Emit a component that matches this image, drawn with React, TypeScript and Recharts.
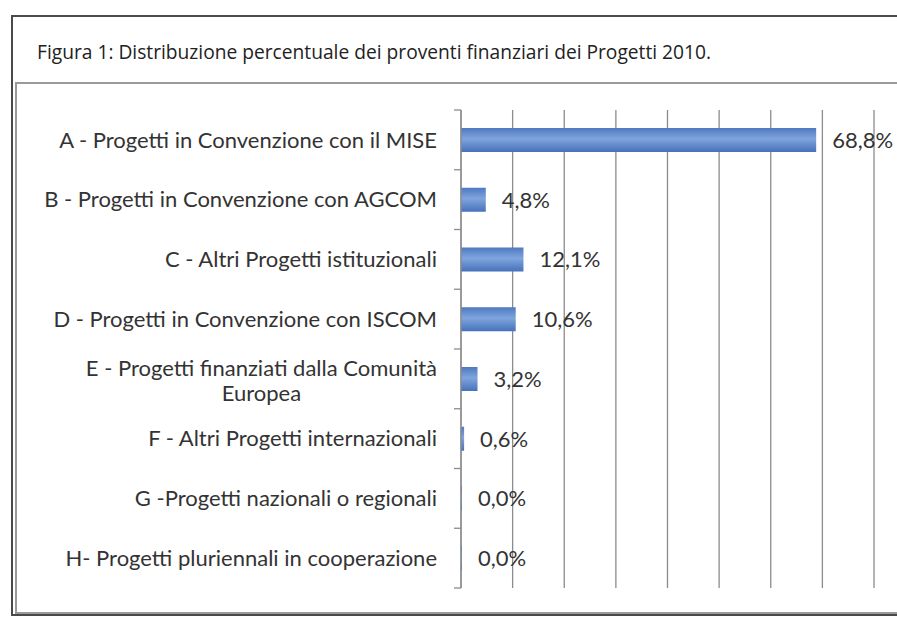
import React from 'react';
import { BarChart, Bar, XAxis, YAxis, CartesianGrid, LabelList } from 'recharts';

const categories = [
  'A - Progetti in Convenzione con il MISE',
  'B - Progetti in Convenzione con AGCOM',
  'C - Altri Progetti istituzionali',
  'D - Progetti in Convenzione con ISCOM',
  'E - Progetti finanziati dalla Comunità Europea',
  'F - Altri Progetti internazionali',
  'G -Progetti nazionali o regionali',
  'H- Progetti pluriennali in cooperazione',
];
const shares = [68.8, 4.8, 12.1, 10.6, 3.2, 0.6, 0.0, 0.0];
const xTicks = [0, 10, 20, 30, 40, 50, 60, 70, 80];

const data = categories.map((name, i) => ({ name, value: shares[i] }));

const FONT = 'Lato, "Open Sans", sans-serif';
const FONT_SIZE = 22;
const TEXT = '#333333';
const GRID = '#8c8c8c';

const CHART_W = 897;
const CHART_H = 617;
const MARGIN = { top: 110, right: 23, bottom: 29, left: 0 };
const LABEL_GAP = 24;
const EDGE_TICK = 7;

let ctx: CanvasRenderingContext2D | null = null;
const measure = (s: string) => {
  if (!ctx) ctx = document.createElement('canvas').getContext('2d');
  if (!ctx) return s.length * 10;
  ctx.font = `${FONT_SIZE}px ${FONT}`;
  return ctx.measureText(s).width;
};

// greedy wrap at ~40 characters
const wrap = (s: string) => {
  const lines: string[] = [];
  let cur = '';
  s.split(' ').forEach((w) => {
    const next = cur ? cur + ' ' + w : w;
    if (next.length > 40 && cur) {
      lines.push(cur);
      cur = w;
    } else cur = next;
  });
  if (cur) lines.push(cur);
  return lines;
};

// label plus the small tick marks that sit on the category boundaries
const CategoryTick = ({ x, y, payload, index }: any) => {
  const lines = wrap(payload.value);
  const style = { fontFamily: FONT, fontSize: FONT_SIZE, fill: TEXT };
  const half =
    payload.offset || (CHART_H - MARGIN.top - MARGIN.bottom) / categories.length / 2;
  const ax = x + LABEL_GAP;
  const edge = (yy: number) => (
    <line x1={ax - EDGE_TICK} x2={ax} y1={yy} y2={yy} stroke={GRID} strokeWidth={1.3} />
  );
  let label;
  if (lines.length === 1) {
    label = (
      <text x={x} y={y} dy="0.35em" textAnchor="end" style={style}>
        {lines[0]}
      </text>
    );
  } else {
    const cx = x - measure(lines[0]) / 2;
    label = (
      <text x={cx} y={y} textAnchor="middle" style={style}>
        {lines.map((l, i) => (
          <tspan key={i} x={cx} dy={i === 0 ? '-0.12em' : '1.14em'}>
            {l}
          </tspan>
        ))}
      </text>
    );
  }
  return (
    <g>
      {edge(y - half)}
      {index === categories.length - 1 && edge(y + half)}
      {label}
    </g>
  );
};

const NoTick = () => <g />;

const fmt = (v: any) => Number(v).toFixed(1).replace('.', ',') + '%';

export default function App() {
  return (
    <div style={{ position: 'absolute', left: 0, top: 0, width: 897, height: 617, background: '#fff', overflow: 'hidden' }}>
      <div
        style={{
          position: 'absolute',
          left: 11,
          top: 15,
          width: 900,
          height: 601,
          border: '2px solid #4a4a4a',
          boxSizing: 'border-box',
        }}
      />
      <div
        style={{
          position: 'absolute',
          left: 15,
          top: 82,
          width: 900,
          height: 532,
          border: '2px solid #9a9a9a',
          boxSizing: 'border-box',
        }}
      />
      <div
        style={{
          position: 'absolute',
          left: 37,
          top: 38,
          fontFamily: '"Open Sans", sans-serif',
          fontSize: 19.2,
          color: '#222',
          whiteSpace: 'nowrap',
        }}
      >
        Figura 1: Distribuzione percentuale dei proventi finanziari dei Progetti 2010.
      </div>
      <div style={{ position: 'absolute', left: 0, top: 0 }}>
        <BarChart
          width={CHART_W}
          height={CHART_H}
          data={data}
          layout="vertical"
          margin={MARGIN}
          barCategoryGap={0}
        >
          <defs>
            <linearGradient id="barFill" x1="0" y1="0" x2="0" y2="1">
              <stop offset="0%" stopColor="#4e79c0" />
              <stop offset="45%" stopColor="#80a5dd" />
              <stop offset="100%" stopColor="#4672bb" />
            </linearGradient>
          </defs>
          <CartesianGrid horizontal={false} stroke={GRID} strokeWidth={1.3} />
          <XAxis
            type="number"
            domain={[0, 80]}
            ticks={xTicks}
            interval={0}
            height={0}
            tick={<NoTick />}
            tickLine={false}
            axisLine={false}
          />
          <YAxis
            type="category"
            dataKey="name"
            width={461}
            tickSize={0}
            tickMargin={LABEL_GAP}
            tickLine={false}
            axisLine={{ stroke: GRID, strokeWidth: 1.3 }}
            tick={<CategoryTick />}
            interval={0}
          />
          <Bar dataKey="value" fill="url(#barFill)" barSize={24} minPointSize={1} isAnimationActive={false}>
            <LabelList
              dataKey="value"
              position="right"
              offset={16}
              formatter={fmt}
              style={{ fontFamily: FONT, fontSize: FONT_SIZE, fill: TEXT }}
            />
          </Bar>
        </BarChart>
      </div>
    </div>
  );
}
